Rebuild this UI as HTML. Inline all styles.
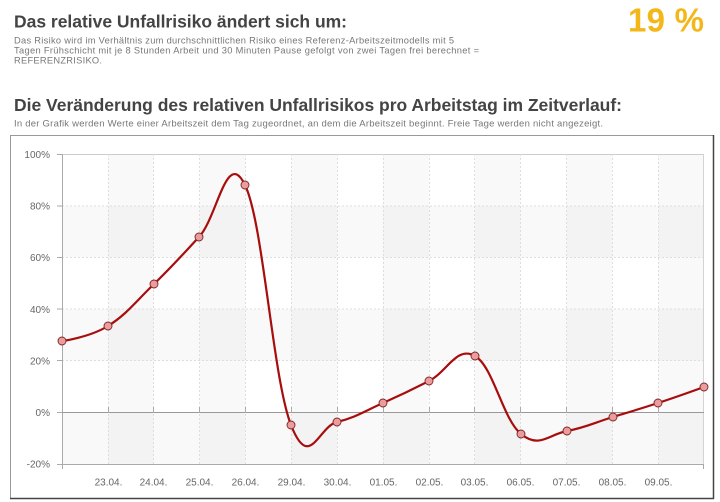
<!DOCTYPE html>
<html>
<head>
<meta charset="utf-8">
<style>
  html,body{margin:0;padding:0;background:#fff;}
  body{width:720px;height:502px;overflow:hidden;font-family:"Liberation Sans",Arial,sans-serif;}
  svg{display:block;}
</style>
</head>
<body>
<svg width="720" height="502" viewBox="0 0 720 502" xmlns="http://www.w3.org/2000/svg" font-family="Liberation Sans, Arial, sans-serif">
  <!-- Header texts -->
  <text x="14" y="27.5" font-size="17.5" font-weight="bold" fill="#444" textLength="333" lengthAdjust="spacing">Das relative Unfallrisiko ändert sich um:</text>
  <text x="628" y="31.7" font-size="33" font-weight="bold" fill="#F4B71A" textLength="76" lengthAdjust="spacing">19 %</text>
  <text x="14" y="43.5" font-size="9.3" fill="#777" textLength="440" lengthAdjust="spacing">Das Risiko wird im Verhältnis zum durchschnittlichen Risiko eines Referenz-Arbeitszeitmodells mit 5</text>
  <text x="14" y="53.5" font-size="9.3" fill="#777" textLength="465" lengthAdjust="spacing">Tagen Frühschicht mit je 8 Stunden Arbeit und 30 Minuten Pause gefolgt von zwei Tagen frei berechnet =</text>
  <text x="14" y="63.5" font-size="9.3" fill="#777" textLength="88" lengthAdjust="spacing">REFERENZRISIKO.</text>

  <text x="14" y="111" font-size="17.5" font-weight="bold" fill="#444" textLength="608" lengthAdjust="spacing">Die Veränderung des relativen Unfallrisikos pro Arbeitstag im Zeitverlauf:</text>
  <text x="14" y="126.3" font-size="9.5" fill="#777" textLength="589" lengthAdjust="spacing">In der Grafik werden Werte einer Arbeitszeit dem Tag zugeordnet, an dem die Arbeitszeit beginnt. Freie Tage werden nicht angezeigt.</text>

  <!-- Chart frame -->
  <rect x="10.5" y="135.5" width="703" height="363" fill="#fff" stroke="#999" stroke-width="1"/>
  <line x1="713.5" y1="135" x2="713.5" y2="499" stroke="#444" stroke-width="1.5"/>
  <line x1="10" y1="498.5" x2="714" y2="498.5" stroke="#444" stroke-width="1.5"/>

  <!-- Plot bands: horizontal alternating -->
  <g fill="#000" fill-opacity="0.022">
    <rect x="62" y="205.9" width="642" height="51.6"/>
    <rect x="62" y="309.1" width="642" height="51.6"/>
    <rect x="62" y="412.3" width="642" height="51.6"/>
  </g>
  <!-- vertical alternating bands -->
  <g fill="#000" fill-opacity="0.022">
    <rect x="108" y="154.3" width="45.9" height="309.6"/>
    <rect x="199.6" y="154.3" width="45.9" height="309.6"/>
    <rect x="291.3" y="154.3" width="45.9" height="309.6"/>
    <rect x="383" y="154.3" width="45.9" height="309.6"/>
    <rect x="474.7" y="154.3" width="45.9" height="309.6"/>
    <rect x="566.4" y="154.3" width="45.9" height="309.6"/>
    <rect x="658.1" y="154.3" width="45.9" height="309.6"/>
  </g>

  <!-- Horizontal grid -->
  <line x1="62" y1="154.5" x2="704" y2="154.5" stroke="#ccc" stroke-width="1"/>
  <g stroke="#dedede" stroke-width="1" stroke-dasharray="2,2">
    <line x1="62" y1="206" x2="704" y2="206"/>
    <line x1="62" y1="257.5" x2="704" y2="257.5"/>
    <line x1="62" y1="309" x2="704" y2="309"/>
    <line x1="62" y1="360.5" x2="704" y2="360.5"/>
  </g>
  <!-- Vertical grid -->
  <g stroke="#dedede" stroke-width="1" stroke-dasharray="2,2">
    <line x1="108.5" y1="154" x2="108.5" y2="464"/>
    <line x1="153.5" y1="154" x2="153.5" y2="464"/>
    <line x1="199.5" y1="154" x2="199.5" y2="464"/>
    <line x1="245.5" y1="154" x2="245.5" y2="464"/>
    <line x1="291.5" y1="154" x2="291.5" y2="464"/>
    <line x1="337.5" y1="154" x2="337.5" y2="464"/>
    <line x1="383.5" y1="154" x2="383.5" y2="464"/>
    <line x1="429.5" y1="154" x2="429.5" y2="464"/>
    <line x1="474.5" y1="154" x2="474.5" y2="464"/>
    <line x1="520.5" y1="154" x2="520.5" y2="464"/>
    <line x1="566.5" y1="154" x2="566.5" y2="464"/>
    <line x1="612.5" y1="154" x2="612.5" y2="464"/>
    <line x1="658.5" y1="154" x2="658.5" y2="464"/>
  </g>
  <line x1="703.5" y1="154" x2="703.5" y2="464" stroke="#d4d4d4" stroke-width="1"/>

  <!-- Axes -->
  <line x1="62.5" y1="154" x2="62.5" y2="469" stroke="#aaa" stroke-width="1"/>
  <line x1="57" y1="464.5" x2="704" y2="464.5" stroke="#aaa" stroke-width="1"/>
  <line x1="62" y1="412.5" x2="704" y2="412.5" stroke="#999" stroke-width="1"/>
  <!-- y ticks -->
  <g stroke="#aaa" stroke-width="1">
    <line x1="57" y1="154.5" x2="62" y2="154.5"/>
    <line x1="57" y1="206" x2="62" y2="206"/>
    <line x1="57" y1="257.5" x2="62" y2="257.5"/>
    <line x1="57" y1="309" x2="62" y2="309"/>
    <line x1="57" y1="360.5" x2="62" y2="360.5"/>
    <line x1="57" y1="412.5" x2="62" y2="412.5"/>
  </g>
  <!-- x ticks on zero line -->
  <g stroke="#aaa" stroke-width="1">
    <line x1="108.5" y1="407" x2="108.5" y2="413"/>
    <line x1="153.5" y1="407" x2="153.5" y2="413"/>
    <line x1="199.5" y1="407" x2="199.5" y2="413"/>
    <line x1="245.5" y1="407" x2="245.5" y2="413"/>
    <line x1="291.5" y1="407" x2="291.5" y2="413"/>
    <line x1="337.5" y1="407" x2="337.5" y2="413"/>
    <line x1="383.5" y1="407" x2="383.5" y2="413"/>
    <line x1="429.5" y1="407" x2="429.5" y2="413"/>
    <line x1="474.5" y1="407" x2="474.5" y2="413"/>
    <line x1="520.5" y1="407" x2="520.5" y2="413"/>
    <line x1="566.5" y1="407" x2="566.5" y2="413"/>
    <line x1="612.5" y1="407" x2="612.5" y2="413"/>
    <line x1="658.5" y1="407" x2="658.5" y2="413"/>
    <line x1="703.5" y1="464" x2="703.5" y2="469"/>
  </g>

  <!-- Y labels -->
  <g font-size="10" fill="#666" text-anchor="end">
    <text x="50" y="158">100%</text>
    <text x="50" y="209.6">80%</text>
    <text x="50" y="261.2">60%</text>
    <text x="50" y="312.8">40%</text>
    <text x="50" y="364.4">20%</text>
    <text x="50" y="416">0%</text>
    <text x="50" y="467.6">-20%</text>
  </g>
  <!-- X labels -->
  <g font-size="10" fill="#666" text-anchor="middle">
    <text x="108.5" y="485.5">23.04.</text>
    <text x="153.5" y="485.5">24.04.</text>
    <text x="199.5" y="485.5">25.04.</text>
    <text x="245.5" y="485.5">26.04.</text>
    <text x="291.5" y="485.5">29.04.</text>
    <text x="337.5" y="485.5">30.04.</text>
    <text x="383.5" y="485.5">01.05.</text>
    <text x="429.5" y="485.5">02.05.</text>
    <text x="474.5" y="485.5">03.05.</text>
    <text x="520.5" y="485.5">06.05.</text>
    <text x="566.5" y="485.5">07.05.</text>
    <text x="612.5" y="485.5">08.05.</text>
    <text x="658.5" y="485.5">09.05.</text>
  </g>

  <!-- Series -->
  <path d="M 62 341
    C 62 341 89.6 337.4 108 326
    C 126.4 314.6 135.6 301.8 154 284
    C 172.4 266.2 180.6 256.8 199 237
    C 217.4 217.2 226.6 147.4 245 185
    C 263.4 222.6 272.6 377.6 291 425
    C 309.4 472.4 318.6 426.4 337 422
    C 355.4 417.6 364.6 411.2 383 403
    C 401.4 394.8 410.6 390.4 429 381
    C 447.4 371.6 456.6 345.4 475 356
    C 493.4 366.6 502.6 419 521 434
    C 539.4 449 548.6 434.4 567 431
    C 585.4 427.6 594.6 422.6 613 417
    C 631.4 411.4 639.6 409 658 403
    C 676.4 397 704 387 704 387"
    fill="none" stroke="#a80d0d" stroke-width="2.2" stroke-linejoin="round" stroke-linecap="round"/>

  <g fill="#ec9c9c" stroke="#7a2525" stroke-width="0.9">
    <circle cx="62" cy="341" r="4"/>
    <circle cx="108" cy="326" r="4"/>
    <circle cx="154" cy="284" r="4"/>
    <circle cx="199" cy="237" r="4"/>
    <circle cx="245" cy="185" r="4"/>
    <circle cx="291" cy="425" r="4"/>
    <circle cx="337" cy="422" r="4"/>
    <circle cx="383" cy="403" r="4"/>
    <circle cx="429" cy="381" r="4"/>
    <circle cx="475" cy="356" r="4"/>
    <circle cx="521" cy="434" r="4"/>
    <circle cx="567" cy="431" r="4"/>
    <circle cx="613" cy="417" r="4"/>
    <circle cx="658" cy="403" r="4"/>
    <circle cx="704" cy="387" r="4"/>
  </g>
</svg>
</body>
</html>
